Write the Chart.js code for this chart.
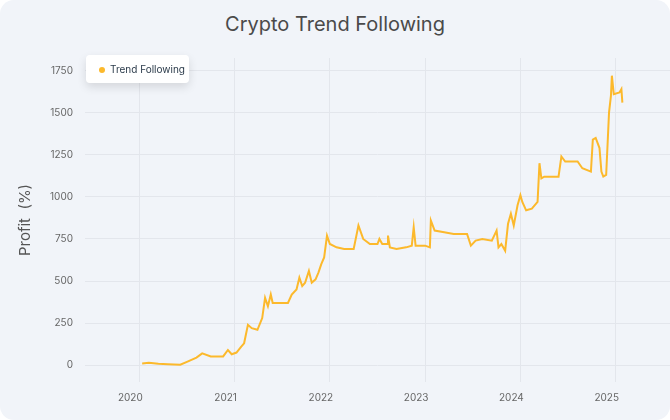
<!DOCTYPE html>
<html><head><meta charset="utf-8">
<script src="https://cdn.jsdelivr.net/npm/chart.js@4"></script>
<style>
html,body{margin:0;padding:0;background:#fff;}
#card{position:absolute;left:0;top:0;width:670px;height:420px;background:#f1f4f9;border-radius:14px;}
#title{position:absolute;left:0;top:12px;width:670px;text-align:center;font:20px Inter,"Noto Sans",sans-serif;color:#4a4a4a;}
#wrap{position:absolute;left:0;top:40px;width:670px;height:380px;}
#legend{position:absolute;left:86px;top:55px;width:103px;height:28px;background:#fff;border-radius:4px;box-shadow:0 4px 10px rgba(0,0,0,0.12);font:10px Inter,"Noto Sans",sans-serif;color:#2a3a4a;line-height:28px;}
#legend span{display:inline-block;width:6px;height:6px;border-radius:50%;background:#fcb92c;margin:0 5px 1px 13px;vertical-align:middle;}
</style></head>
<body>
<div id="card"></div>
<div id="title">Crypto Trend Following</div>
<div id="wrap"><canvas id="c"></canvas></div>
<div id="legend"><span></span>Trend Following</div>
<script>
const seriesName = "Trend Following";
const years = [2020.03,2020.1,2020.2,2020.3,2020.43,2020.5,2020.6,2020.66,2020.75,2020.88,2020.93,2020.97,2021.02,2021.07,2021.1,2021.14,2021.18,2021.24,2021.29,2021.32,2021.35,2021.38,2021.4,2021.5,2021.56,2021.6,2021.65,2021.68,2021.71,2021.74,2021.78,2021.81,2021.85,2021.88,2021.91,2021.94,2021.97,2022.0,2022.07,2022.15,2022.25,2022.3,2022.35,2022.42,2022.5,2022.52,2022.55,2022.6,2022.61,2022.63,2022.7,2022.8,2022.86,2022.88,2022.9,2023.0,2023.05,2023.06,2023.1,2023.2,2023.3,2023.44,2023.48,2023.53,2023.6,2023.7,2023.75,2023.77,2023.8,2023.84,2023.87,2023.9,2023.93,2023.97,2024.0,2024.02,2024.06,2024.12,2024.18,2024.2,2024.22,2024.25,2024.3,2024.4,2024.43,2024.47,2024.6,2024.65,2024.74,2024.76,2024.79,2024.83,2024.85,2024.87,2024.9,2024.93,2024.95,2024.96,2024.98,2025.04,2025.06,2025.07];
const profit = [10,14,8,6,3,20,45,70,52,52,90,65,75,110,130,240,220,210,280,400,350,420,370,370,370,420,450,520,470,490,560,490,510,550,600,640,770,720,700,690,690,830,750,720,720,750,720,720,770,700,690,700,710,820,710,710,700,860,800,790,780,780,710,740,750,740,800,700,720,680,840,900,830,950,1010,970,920,930,970,1200,1110,1120,1120,1120,1240,1210,1210,1170,1150,1340,1350,1290,1150,1120,1130,1500,1600,1720,1610,1620,1640,1560];
const yTicks = [0,250,500,750,1000,1250,1500,1750];
const xTicks = [2020,2021,2022,2023,2024,2025];

new Chart(document.getElementById('c'), {
  type: 'line',
  data: { datasets: [{
    label: seriesName,
    data: years.map((x,i)=>({x, y: profit[i]})),
    borderColor: '#fcb92c', borderWidth: 2, pointRadius: 0, tension: 0, fill: false
  }]},
  options: {
    responsive: true, maintainAspectRatio: false, animation: false,
    layout: { padding: { left: 12, right: 0, top: 0, bottom: 6 } },
    plugins: { legend: { display: false }, tooltip: { enabled: false } },
    scales: {
      x: { type: 'linear', min: 2019.43, max: 2025.57,
        afterBuildTicks: s => { s.ticks = xTicks.map(v=>({value:v})); },
        grid: { color: '#e3e6ec', drawTicks: false }, border: { display: false },
        ticks: { labelOffset: -9, padding: 10, color: '#666', font: { family: 'Inter', size: 10 }, callback: v => String(v) } },
      y: { min: -100, max: 1825,
        afterBuildTicks: s => { s.ticks = yTicks.map(v=>({value:v})); },
        grid: { color: '#e3e6ec', drawTicks: false }, border: { display: false },
        title: { display: true, text: 'Profit  (%)', color: '#555', font: { family: 'Inter', size: 15 } },
        ticks: { padding: 12, color: '#666', font: { family: 'Inter', size: 10 }, callback: v => String(v) } }
    }
  }
});
</script>
</body></html>
